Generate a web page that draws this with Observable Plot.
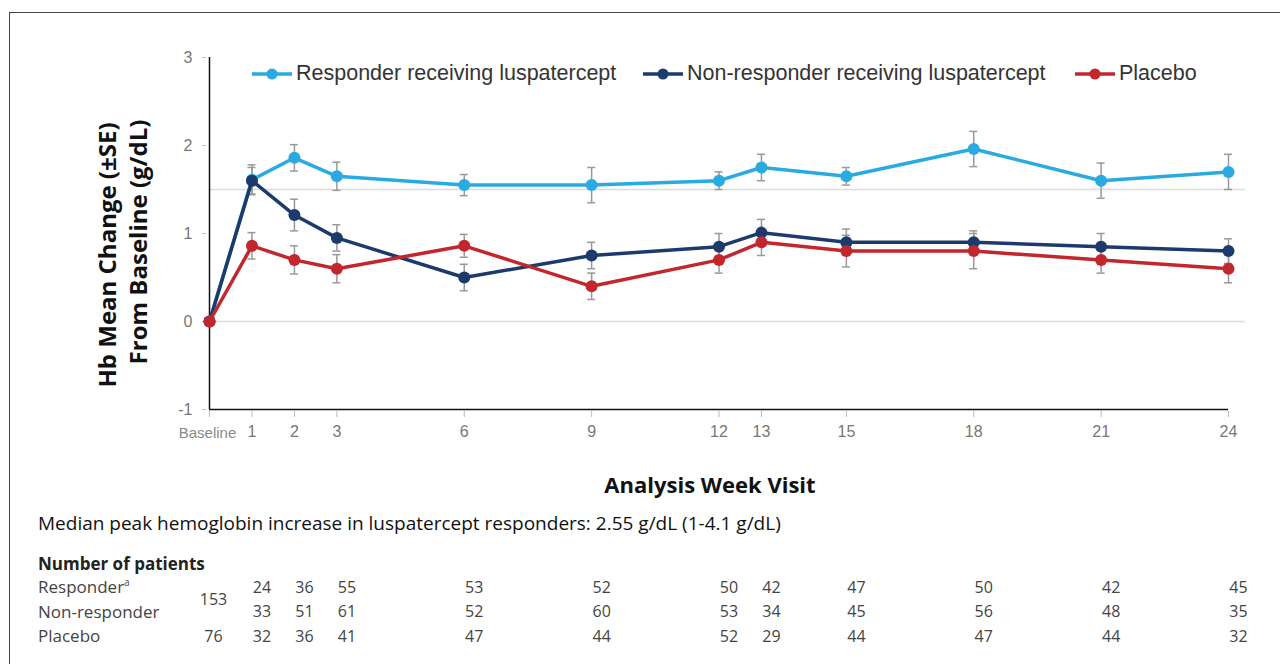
<!DOCTYPE html>
<html>
<head>
<meta charset="utf-8">
<script src="https://cdn.jsdelivr.net/npm/d3@7"></script>
<script src="https://cdn.jsdelivr.net/npm/@observablehq/plot@0.6"></script>
<style>
  html, body { margin: 0; padding: 0; background: #fff; }
  #root { position: relative; width: 1280px; height: 664px; overflow: hidden; background: #fff; }
  #box { position: absolute; left: 9px; top: 12px; width: 1400px; height: 800px; border-left: 1px solid #444; border-top: 1px solid #444; }
  .abs { position: absolute; }
  .ytitle { position: absolute; font-family: "Open Sans", sans-serif; font-weight: 700; font-size: 24px; color: #111; white-space: nowrap; transform: translate(-50%, -50%) rotate(-90deg); }
  .leg { position: absolute; font-family: "Liberation Sans", Arial, sans-serif; font-size: 21.5px; color: #333; white-space: nowrap; display: flex; align-items: center; }
  .leg svg { margin-right: 4px; }
  .tbl { position: absolute; font-family: "Open Sans", sans-serif; font-size: 17px; color: #444; white-space: nowrap; }
</style>
</head>
<body>
<div id="root">
  <div id="box"></div>
</div>
<script>
// ---------- data ----------
const weeks = [0, 1, 2, 3, 6, 9, 12, 13, 15, 18, 21, 24];
const weekTickLabels = ["Baseline", "1", "2", "3", "6", "9", "12", "13", "15", "18", "21", "24"];
const seriesNames = ["Responder receiving luspatercept", "Non-responder receiving luspatercept", "Placebo"];
const seriesColors = ["#29abe2", "#1d3a6c", "#c1272d"];

const responderMean    = [0, 1.61, 1.86, 1.65, 1.55, 1.55, 1.60, 1.75, 1.65, 1.96, 1.60, 1.70];
const responderSE      = [0, 0.17, 0.15, 0.16, 0.12, 0.20, 0.10, 0.15, 0.10, 0.20, 0.20, 0.20];
const nonResponderMean = [0, 1.60, 1.21, 0.95, 0.50, 0.75, 0.85, 1.01, 0.90, 0.90, 0.85, 0.80];
const nonResponderSE   = [0, 0.15, 0.18, 0.15, 0.15, 0.15, 0.15, 0.15, 0.15, 0.13, 0.15, 0.14];
const placeboMean      = [0, 0.86, 0.70, 0.60, 0.86, 0.40, 0.70, 0.90, 0.80, 0.80, 0.70, 0.60];
const placeboSE        = [0, 0.15, 0.16, 0.16, 0.13, 0.15, 0.15, 0.15, 0.18, 0.20, 0.15, 0.16];

const yTicks = [-1, 0, 1, 2, 3];
const gridValues = [0, 1.5];

const tableRows = ["Responder", "Non-responder", "Placebo"];
const responderN    = [24, 36, 55, 53, 52, 50, 42, 47, 50, 42, 45];
const nonResponderN = [33, 51, 61, 52, 60, 53, 34, 45, 56, 48, 35];
const placeboN      = [32, 36, 41, 47, 44, 52, 29, 44, 47, 44, 32];
const luspaterceptBaselineN = 153;
const placeboBaselineN = 76;

// ---------- build tables ----------
const means = [responderMean, nonResponderMean, placeboMean];
const ses = [responderSE, nonResponderSE, placeboSE];
const points = [];
seriesNames.forEach((name, s) => {
  weeks.forEach((w, i) => points.push({series: name, week: w, mean: means[s][i], se: ses[s][i]}));
});
const errPts = points.filter(d => d.se > 0);
const colorScale = {domain: seriesNames, range: seriesColors};

const root = document.getElementById("root");

// ---------- main chart ----------
const W = 1280, H = 460;
const chart = Plot.plot({
  width: W, height: H,
  marginLeft: 209, marginRight: 52, marginTop: 57, marginBottom: 51,
  style: {fontFamily: "'Liberation Sans', Arial, sans-serif", background: "transparent", overflow: "visible"},
  x: {domain: [0, 24]},
  y: {domain: [-1, 3]},
  color: colorScale,
  marks: [
    Plot.ruleY(gridValues, {x1: 0, x2: 24.4, stroke: "#dcdcdc", strokeWidth: 1.5}),
    Plot.axisY(yTicks, {tickSize: 4, tickPadding: 10, dx: -3, stroke: "#bbb", fill: "#777", fontSize: 16, label: null,
      tickFormat: d => String(d)}),
    Plot.axisX(weeks, {tickSize: 6, tickPadding: 8, dy: 2, stroke: "#bbb", fill: "#777", fontSize: 16, label: null,
      tickFormat: d => d === 0 ? "" : weekTickLabels[weeks.indexOf(d)]}),
    Plot.text([weekTickLabels[0]], {x: weeks[0], y: -1, dx: -2, dy: 24, fill: "#888", fontSize: 15}),
    Plot.ruleX([0], {y1: -1, y2: 3, stroke: "#111", strokeWidth: 1.5}),
    Plot.ruleY([-1], {x1: 0, x2: 24, stroke: "#111", strokeWidth: 1.5}),
    // error bars
    Plot.ruleX(errPts, {x: "week", y1: d => d.mean - d.se, y2: d => d.mean + d.se, stroke: "#999", strokeWidth: 1.5}),
    Plot.ruleY(errPts, {x1: "week", x2: "week", y: d => d.mean + d.se, insetLeft: -4, insetRight: -4, stroke: "#999", strokeWidth: 1.5}),
    Plot.ruleY(errPts, {x1: "week", x2: "week", y: d => d.mean - d.se, insetLeft: -4, insetRight: -4, stroke: "#999", strokeWidth: 1.5}),
    // lines
    Plot.line(points, {x: "week", y: "mean", z: "series", stroke: "series", strokeWidth: 3.5}),
    Plot.dot(points, {x: "week", y: "mean", fill: "series", r: 6}),
  ]
});
chart.style.position = "absolute";
chart.style.left = "0px";
chart.style.top = "0px";
root.appendChild(chart);

// ---------- legend ----------
const legendLeft = [252, 643, 1075];
seriesNames.forEach((name, i) => {
  const d = document.createElement("div");
  d.className = "leg";
  d.style.left = legendLeft[i] + "px";
  d.style.top = "61px";
  d.innerHTML = `<svg width="40" height="24"><line x1="0" y1="12" x2="40" y2="12" stroke="${seriesColors[i]}" stroke-width="3.5"/><circle cx="20" cy="12" r="5.5" fill="${seriesColors[i]}"/></svg><span>${name}</span>`;
  root.appendChild(d);
});

// ---------- y title ----------
const t1 = document.createElement("div");
t1.className = "ytitle"; t1.style.left = "106px"; t1.style.top = "255px";
t1.textContent = "Hb Mean Change (±SE)";
root.appendChild(t1);
const t2 = document.createElement("div");
t2.className = "ytitle"; t2.style.left = "137px"; t2.style.top = "242px";
t2.textContent = "From Baseline (g/dL)";
root.appendChild(t2);

// ---------- x title ----------
const xt = document.createElement("div");
xt.className = "abs";
xt.style.cssText = "position:absolute;left:0;width:1420px;top:469px;text-align:center;font-family:'Open Sans',sans-serif;font-weight:700;font-size:22px;color:#111;";
xt.textContent = "Analysis Week Visit";
root.appendChild(xt);

// ---------- caption ----------
const cap = document.createElement("div");
cap.className = "abs";
cap.style.cssText = "position:absolute;left:38px;top:510px;font-family:'Open Sans',sans-serif;font-size:19px;color:#111;white-space:nowrap;";
cap.textContent = "Median peak hemoglobin increase in luspatercept responders: 2.55 g/dL (1-4.1 g/dL)";
root.appendChild(cap);

// ---------- table ----------
const th = document.createElement("div");
th.className = "tbl";
th.style.cssText += "left:38px;top:552px;font-weight:700;color:#222;";
th.textContent = "Number of patients";
root.appendChild(th);
const rowTops = [575, 600, 624];
tableRows.forEach((r, i) => {
  const e = document.createElement("div");
  e.className = "tbl";
  e.style.left = "38px"; e.style.top = rowTops[i] + "px";
  e.innerHTML = i === 0 ? "Responder<sup style='font-size:10px'>a</sup>" : r;
  root.appendChild(e);
});

const counts = [responderN, nonResponderN, placeboN];
const cells = [];
counts.forEach((arr, r) => arr.forEach((n, i) => cells.push({week: weeks[i + 1], row: r, n})));
const baseCells = [{week: weeks[0], row: 0.5, n: luspaterceptBaselineN}, {week: weeks[0], row: 2, n: placeboBaselineN}];

const table = Plot.plot({
  width: W, height: 80,
  marginLeft: 209, marginRight: 52, marginTop: 17, marginBottom: 14,
  style: {fontFamily: "'Open Sans', sans-serif", background: "transparent", overflow: "visible"},
  x: {domain: [0, 24], axis: null},
  y: {domain: [0, 2], reverse: true, axis: null},
  marks: [
    Plot.text(cells, {x: "week", y: "row", text: "n", dx: 10, fill: "#444", fontSize: 16}),
    Plot.text(baseCells, {x: "week", y: "row", text: "n", dx: 4, fill: "#444", fontSize: 16})
  ]
});
table.style.position = "absolute";
table.style.left = "0px";
table.style.top = "570px";
root.appendChild(table);
</script>
</body>
</html>
